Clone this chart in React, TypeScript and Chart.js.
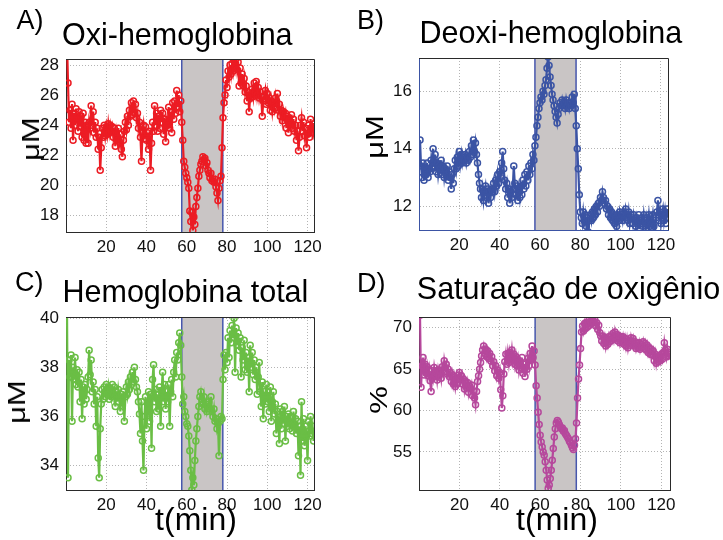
import React, { useEffect, useRef } from "react";
import { Chart, registerables } from "chart.js";

Chart.register(...registerables);

// sampling of the recordings (minutes)
const T0 = 0.5;
const DT = 0.5;

// A) Oxi-hemoglobina (µM)
const OXI_HB = [
  29.5, 26.8, 24.2, 25.0, 23.8, 25.4, 23.0, 24.8, 24.0, 25.1,
  24.5, 23.6, 24.9, 23.9, 24.6, 23.2, 24.8, 23.0, 24.2, 22.8,
  24.0, 22.8, 24.2, 23.8, 25.3, 24.0, 24.9, 23.5, 24.2, 23.2,
  23.8, 22.4, 23.2, 21.0, 22.5, 23.8, 23.2, 24.0, 23.3, 23.9,
  23.4, 24.1, 23.5, 24.0, 23.6, 23.9, 23.2, 23.8, 22.6, 23.5,
  23.0, 23.8, 22.9, 23.4, 22.4, 21.9, 23.0, 23.6, 24.2, 23.7,
  24.6, 24.0, 25.0, 24.6, 25.5, 24.7, 25.6, 24.8, 25.4, 24.5,
  24.8, 23.8, 24.2, 23.2, 21.6, 23.5, 24.0, 23.1, 23.9, 23.0,
  23.5, 22.4, 23.6, 21.0, 22.8, 24.2, 23.6, 25.3, 24.0, 24.8,
  23.6, 24.6, 23.8, 25.0, 24.2, 24.8, 23.4, 24.4, 22.9, 24.3,
  24.0, 25.2, 23.8, 24.9, 23.5, 25.5, 24.4, 25.6, 24.8, 26.3,
  25.2, 26.0, 24.9, 25.6, 24.2, 23.0, 21.6, 21.2,
  20.8, 20.5, 20.2, 19.8, 18.3, 17.6, 18.2, 17.0, 17.9, 17.4,
  18.6, 19.2, 19.8, 20.6, 21.0, 21.4, 21.6, 21.9, 21.7, 21.8,
  21.3, 21.5, 21.0, 20.8, 20.5, 20.8, 20.3, 20.4, 20.2, 20.4,
  19.9, 19.5, 19.0, 19.8, 20.3, 20.6, 22.5, 24.5, 25.5, 26.0,
  27.0, 26.5, 27.6, 27.2, 28.0, 27.4, 28.1, 27.6, 28.3, 27.8,
  28.4, 27.7, 28.2, 26.6, 27.8, 26.8, 27.4, 26.6, 27.1, 26.2,
  26.6, 25.6, 26.2, 24.9, 26.0, 25.8, 26.4, 25.9, 26.8, 26.2,
  26.9, 26.0, 26.5, 25.8, 26.2, 25.9, 24.6, 25.6, 25.9,
  26.3, 25.4, 26.1, 25.5, 25.8, 25.0, 25.6, 24.9, 25.5, 25.1,
  25.8, 25.2, 26.1, 25.0, 25.4, 24.6, 25.0, 24.3, 24.9, 24.5,
  24.8, 23.8, 24.6, 23.5, 24.4, 24.0, 24.7, 23.8, 24.4, 23.6,
  24.0, 23.0, 23.6, 22.3, 23.2, 24.0, 24.5, 23.6, 24.2, 23.3,
  23.8, 22.5, 23.4, 24.0, 23.2, 24.4, 23.6, 23.9, 23.5, 24.1, 23.3,
];

// B) Deoxi-hemoglobina (µM)
const DEOXI_HB = [
  14.3, 13.4, 13.0, 13.5, 12.9, 13.3, 13.1, 13.5, 13.0, 13.3,
  13.2, 13.6, 13.3, 14.0, 13.4, 13.8, 13.2, 13.5, 13.1, 13.4,
  13.3, 13.6, 13.1, 13.4, 13.0, 13.3, 13.1, 13.4, 12.9, 13.2,
  13.0, 12.6, 13.1, 12.8, 13.3, 13.6, 13.3, 13.7, 13.4, 13.9,
  13.5, 13.8, 13.5, 13.7, 13.6, 13.8, 13.5, 13.7, 13.6, 13.9,
  13.7, 14.1, 13.8, 14.3, 13.9, 14.2, 13.8, 13.5, 13.1, 12.8,
  12.6, 12.3, 12.6, 12.2, 12.5, 12.7, 12.3, 12.6, 12.1, 12.5,
  12.3, 12.6, 12.5, 12.8, 12.5, 12.9, 12.7, 13.1, 12.8, 13.2,
  13.0, 13.5, 13.9, 13.3, 12.9, 12.6, 12.8, 12.3, 12.6, 12.1,
  12.5, 12.3, 12.6, 13.4, 12.8, 12.4, 12.7, 12.2, 12.6, 12.3,
  12.7, 12.4, 12.9, 12.6, 13.1, 12.7, 13.2, 12.9, 13.4, 13.1,
  13.5, 13.3, 13.8, 13.6, 14.1, 14.4, 14.8, 15.1, 15.4, 15.6,
  15.8, 15.7, 16.0, 15.9, 16.2, 16.4, 16.8, 17.2, 16.9, 16.5,
  16.2, 15.9, 15.7, 15.5, 15.3, 15.1, 14.9, 15.2, 15.4, 15.6,
  15.5, 15.7, 15.5, 15.6, 15.4, 15.7, 15.5, 15.6, 15.4, 15.6,
  15.5, 15.8, 15.6, 15.9, 15.4, 14.8, 14.0, 13.3, 12.4, 11.8,
  11.6, 11.4, 11.8, 11.5, 11.7, 11.3, 11.6, 11.1, 11.5, 11.7,
  11.5, 11.8, 11.6, 11.9, 11.7, 12.0, 11.8, 12.1, 12.0, 12.3,
  12.2, 12.5, 12.3, 12.1, 12.2, 11.9, 12.0, 11.7, 11.9, 11.6,
  11.8, 11.5, 11.7, 11.4, 11.6, 11.3, 11.7, 11.5, 11.8, 11.6,
  11.7, 11.5, 11.8, 11.6, 11.9, 11.7, 11.5, 11.8, 11.4, 11.7,
  11.6, 11.4, 11.7, 11.5, 11.3, 11.6, 11.4, 11.7, 11.2, 11.5,
  11.6, 11.3, 11.7, 11.4, 11.2, 11.6, 11.4, 11.7, 11.3, 11.5,
  11.4, 11.7, 11.3, 11.05, 11.6, 11.8, 12.2, 11.5, 11.8, 11.4,
  11.7, 11.9, 11.5, 11.8, 11.4, 11.9, 11.6, 11.7,
];

// C) Hemoglobina total (µM)
const TOTAL_HB = [
  40.5, 33.5, 38.3, 37.6, 38.5, 35.8, 38.0, 37.5, 38.4, 37.3,
  37.9, 37.2, 37.8, 36.6, 37.5, 35.9, 37.2, 36.5, 37.3, 36.7,
  37.1, 37.6, 38.7, 37.7, 38.3, 37.0, 37.4, 36.5, 37.1, 35.6,
  36.8, 34.3, 33.5, 35.5, 36.5, 37.1, 36.7, 37.2, 36.8, 37.3,
  36.9, 37.2, 36.7, 37.1, 36.8, 37.3, 36.9, 37.2, 36.4, 37.0,
  36.6, 37.1, 36.8, 36.2, 36.9, 36.6, 37.0, 35.8, 36.8, 37.2,
  36.9, 37.4, 37.1, 37.6, 37.3, 37.8, 37.4, 38.0, 37.5, 37.2,
  37.0, 36.6, 36.1, 35.3, 36.6, 35.0, 33.8, 36.0, 36.8, 35.5,
  36.5, 37.0, 35.8, 36.9, 34.7, 37.5, 38.1, 36.6, 37.1, 36.2,
  36.9, 36.3, 37.2, 35.6, 37.0, 37.8, 36.6, 37.3, 36.3, 37.0,
  36.6, 37.3, 35.6, 37.0, 37.5, 36.8, 37.8, 38.3, 37.6, 38.6,
  38.3, 39.0, 39.4, 38.9, 37.6, 36.5, 36.8, 36.2, 36.0, 35.7,
  35.6, 35.2, 34.6, 33.8, 33.0, 33.5, 33.2, 34.2, 35.0, 35.5,
  36.0, 36.4, 36.8, 37.0, 36.7, 36.5, 36.8, 36.3, 36.5, 36.2,
  36.4, 36.6, 36.3, 36.8, 36.2, 36.0, 36.3, 35.8, 35.9, 35.5,
  35.7, 34.4, 35.8, 36.0, 35.9, 37.5, 38.5, 37.9, 38.6, 38.2,
  39.2, 38.4, 39.5, 39.0, 39.7, 39.2, 40.0, 37.8, 39.6, 38.9,
  39.4, 38.7, 39.2, 37.6, 38.8, 38.3, 39.1, 37.9, 38.6, 37.8,
  38.4, 37.0, 38.9, 38.0, 38.6, 37.7, 38.3, 37.5, 38.0, 36.9,
  37.6, 38.2, 37.0, 36.4, 37.4, 35.9, 37.0, 36.5, 37.3, 36.6,
  37.0, 36.2, 37.2, 35.8, 36.6, 37.0, 36.1, 36.5, 35.3, 36.2,
  35.8, 34.9, 36.3, 35.5, 36.2, 35.7, 36.4, 35.0, 36.0, 35.6,
  36.1, 35.5, 36.0, 35.7, 35.4, 36.2, 35.6, 35.9, 35.3, 35.8,
  34.4, 35.6, 33.6, 36.6, 35.0, 35.9, 34.8, 35.6, 35.2, 34.2,
  35.8, 35.2, 36.0, 35.3, 35.6, 35.0, 35.4, 35.2,
];

// D) Saturação de oxigênio (%)
const SAT_O2 = [
  71.5, 62.8, 65.4, 66.4, 64.3, 65.6, 64.5, 65.3, 64.2, 65.0,
  63.6, 62.3, 64.8, 64.0, 65.2, 64.3, 64.8, 63.7, 64.9, 64.2,
  64.8, 63.9, 65.3, 64.6, 66.0, 65.2, 65.6, 64.4, 65.0, 64.1,
  64.6, 63.5, 64.3, 63.2, 64.0, 62.9, 63.8, 63.2, 64.3, 64.6,
  63.7, 64.2, 63.2, 63.8, 62.6, 63.5, 62.8, 63.4, 62.2, 63.0,
  62.6, 63.1, 61.8, 62.4, 61.5, 60.7, 62.3, 63.5, 64.2, 65.0,
  65.8, 66.6, 67.3, 67.8, 66.9, 67.4, 66.5, 67.2, 66.3, 66.9,
  66.0, 66.5, 65.4, 65.9, 64.8, 65.4, 64.2, 64.9, 63.9, 64.6,
  62.5, 60.3, 61.8, 64.4, 65.9, 66.8, 65.6, 66.9, 65.8, 67.0,
  66.2, 67.3, 66.0, 66.8, 65.6, 66.5, 65.4, 66.2, 64.9, 65.8,
  65.2, 66.4, 64.5, 65.6, 64.1, 65.8, 65.0, 66.3, 65.4, 66.9,
  66.2, 67.8, 66.4, 67.2, 65.5, 63.0, 61.5, 59.8, 58.3, 57.0,
  56.2, 55.6, 55.0, 54.6, 53.8, 52.8, 51.6, 50.6, 51.0, 51.8,
  52.8, 54.0, 55.4, 56.8, 57.8, 58.5, 58.8, 58.6, 58.3, 58.0,
  57.8, 57.9, 57.5, 57.6, 57.2, 57.0, 56.8, 56.6, 56.3, 56.1,
  55.8, 55.5, 55.3, 55.8, 56.6, 58.5, 61.5, 63.8, 65.5, 67.5,
  69.5, 70.2, 69.6, 70.5, 69.9, 70.7, 70.1, 70.6, 70.3, 70.8,
  70.5, 71.2, 70.6, 71.0, 70.2, 70.6, 69.8, 70.3, 69.4, 69.0,
  68.4, 69.0, 68.1, 68.8, 67.8, 68.6, 68.0, 68.9, 68.3, 69.0,
  68.5, 69.3, 68.6, 69.5, 68.7, 69.2, 68.4, 69.0, 68.2, 68.9,
  68.3, 68.9, 68.0, 68.7, 67.8, 68.6, 67.6, 68.4, 67.9, 68.8,
  68.2, 68.7, 67.8, 68.3, 67.5, 68.1, 67.6, 68.2, 67.4, 68.0,
  67.7, 68.3, 67.5, 68.1, 67.3, 67.9, 67.0, 67.6, 66.8, 67.4,
  66.7, 67.2, 66.0, 66.8, 65.7, 66.5, 65.9, 66.6, 66.0, 66.8,
  66.2, 67.0, 68.2, 67.3, 66.5, 67.4, 66.6, 67.0,
];

const X_TICKS = [20, 40, 60, 80, 100, 120];
const OXI_TICKS = [18, 20, 22, 24, 26, 28];
const DEOXI_TICKS = [12, 14, 16];
const TOTAL_TICKS = [34, 36, 38, 40];
const SAT_TICKS = [55, 60, 65, 70];

// stimulus window (minutes)
const STIM_START = 57.5;
const STIM_END = 77.9;

const W = 723;
const H = 540;
const FONT = '"Liberation Sans", Arial, Helvetica, sans-serif';
const Y_AXIS_W = 60;
const X_AXIS_H = 30;
const FRAME = "#2a2a2a";
const GRID = "#b4b4b4";
const SHADE = "#c9c5c5";
const EDGE = "#4757ad";

type Panel = {
  id: string;
  values: number[];
  ticks: number[];
  yMin: number;
  yMax: number;
  xMax: number;
  color: string;
  area: [number, number, number, number];
  leftBorder: string;
  bottomBorder: string;
};

const PANELS: Panel[] = [
  { id: "A", values: OXI_HB, ticks: OXI_TICKS, yMin: 16.9, yMax: 28.4, xMax: 123.2, color: "#ec1c24", area: [66, 314, 59, 232], leftBorder: FRAME, bottomBorder: FRAME },
  { id: "B", values: DEOXI_HB, ticks: DEOXI_TICKS, yMin: 11.17, yMax: 17.16, xMax: 123.5, color: "#3b54a4", area: [419, 668, 58, 230], leftBorder: "#3b54a4", bottomBorder: "#3b54a4" },
  { id: "C", values: TOTAL_HB, ticks: TOTAL_TICKS, yMin: 33.0, yMax: 40.05, xMax: 123.2, color: "#6abe45", area: [66, 314, 317, 490], leftBorder: FRAME, bottomBorder: FRAME },
  { id: "D", values: SAT_O2, ticks: SAT_TICKS, yMin: 50.4, yMax: 71.3, xMax: 124.3, color: "#b6489c", area: [419, 670, 317, 490], leftBorder: FRAME, bottomBorder: FRAME },
];

const stimPlugin = {
  id: "stimWindow",
  beforeDatasetsDraw(chart: any) {
    const { ctx, chartArea, scales } = chart;
    const x1 = scales.x.getPixelForValue(STIM_START);
    const x2 = scales.x.getPixelForValue(STIM_END);
    ctx.save();
    ctx.fillStyle = SHADE;
    ctx.fillRect(x1, chartArea.top, x2 - x1, chartArea.bottom - chartArea.top);
    ctx.strokeStyle = EDGE;
    ctx.lineWidth = 1.5;
    ctx.beginPath();
    ctx.moveTo(x1, chartArea.top);
    ctx.lineTo(x1, chartArea.bottom);
    ctx.moveTo(x2, chartArea.top);
    ctx.lineTo(x2, chartArea.bottom);
    ctx.stroke();
    ctx.restore();
  },
  afterDatasetsDraw(chart: any) {
    const { ctx, chartArea } = chart;
    const top = Math.round(chartArea.top - 0.5) + 0.5;
    const right = Math.round(chartArea.right - 0.5) + 0.5;
    ctx.save();
    ctx.strokeStyle = FRAME;
    ctx.lineWidth = 1;
    ctx.beginPath();
    ctx.moveTo(chartArea.left, top);
    ctx.lineTo(right, top);
    ctx.lineTo(right, chartArea.bottom);
    ctx.stroke();
    ctx.restore();
  },
};

function PanelChart({ panel }: { panel: Panel }) {
  const ref = useRef<HTMLCanvasElement>(null);
  useEffect(() => {
    const canvas = ref.current;
    if (!canvas) return;
    const [l, r, t, b] = panel.area;
    const points = panel.values.map((v, i) => ({ x: T0 + i * DT, y: v }));
    const tickFont = { family: FONT, size: 17 };
    const chart = new Chart(canvas, {
      type: "line",
      data: {
        datasets: [
          {
            data: points,
            borderColor: panel.color,
            borderWidth: 2.2,
            pointRadius: 3,
            pointBorderWidth: 1.5,
            pointBorderColor: panel.color,
            pointBackgroundColor: "rgba(0,0,0,0)",
            pointHoverRadius: 0,
            fill: false,
            tension: 0,
          },
        ],
      },
      options: {
        responsive: false,
        animation: false,
        devicePixelRatio: 1,
        events: [],
        layout: {
          padding: { left: l - Y_AXIS_W, right: W - r, top: t, bottom: H - b - X_AXIS_H },
        },
        plugins: { legend: { display: false }, tooltip: { enabled: false } },
        scales: {
          x: {
            type: "linear",
            min: 0,
            max: panel.xMax,
            afterBuildTicks: (s: any) => {
              s.ticks = X_TICKS.map((v) => ({ value: v }));
            },
            afterFit: (s: any) => {
              s.height = X_AXIS_H;
            },
            grid: { color: GRID, lineWidth: 1, drawTicks: false },
            border: { display: true, color: panel.bottomBorder, width: 1, dash: [1, 2] },
            ticks: { padding: 5, font: tickFont, color: "#111", maxRotation: 0, autoSkip: false, callback: (v: any) => String(v) },
          },
          y: {
            type: "linear",
            min: panel.yMin,
            max: panel.yMax,
            afterBuildTicks: (s: any) => {
              s.ticks = panel.ticks.map((v) => ({ value: v }));
            },
            afterFit: (s: any) => {
              s.width = Y_AXIS_W;
            },
            grid: { color: GRID, lineWidth: 1, drawTicks: false },
            border: { display: true, color: panel.leftBorder, width: 1, dash: [1, 2] },
            ticks: { padding: 7, font: tickFont, color: "#111", autoSkip: false, callback: (v: any) => String(v) },
          },
        },
      },
      plugins: [stimPlugin],
    } as any);
    return () => chart.destroy();
  }, [panel]);
  return (
    <canvas
      ref={ref}
      width={W}
      height={H}
      style={{ position: "absolute", left: 0, top: 0, width: W, height: H }}
    />
  );
}

function Txt({ text, left, baseline, size }: { text: string; left: number; baseline: number; size: number }) {
  return (
    <div
      style={{
        position: "absolute",
        left,
        top: baseline - 0.8465 * size,
        fontSize: size,
        lineHeight: `${size}px`,
        fontFamily: FONT,
        whiteSpace: "nowrap",
        color: "#000",
      }}
    >
      {text}
    </div>
  );
}

function CenterTxt({ text, cx, baseline, size }: { text: string; cx: number; baseline: number; size: number }) {
  return (
    <div
      style={{
        position: "absolute",
        left: cx,
        top: baseline - 0.8465 * size,
        fontSize: size,
        lineHeight: `${size}px`,
        fontFamily: FONT,
        whiteSpace: "nowrap",
        color: "#000",
        transform: "translateX(-50%)",
      }}
    >
      {text}
    </div>
  );
}

function RotTxt({ text, cx, cy, size }: { text: string; cx: number; cy: number; size: number }) {
  return (
    <div
      style={{
        position: "absolute",
        left: cx,
        top: cy,
        fontSize: size,
        lineHeight: `${size}px`,
        fontFamily: FONT,
        whiteSpace: "nowrap",
        color: "#000",
        transform: "translate(-50%, -50%) rotate(-90deg) scaleY(0.8)",
      }}
    >
      {text}
    </div>
  );
}

export default function App() {
  return (
    <div style={{ position: "absolute", left: 0, top: 0, width: W, height: H, background: "#fff", overflow: "hidden" }}>
      {PANELS.map((p) => (
        <PanelChart key={p.id} panel={p} />
      ))}
      <Txt text="A)" left={16.5} baseline={30} size={27} />
      <Txt text="B)" left={357} baseline={30} size={27} />
      <Txt text="C)" left={15} baseline={291.7} size={27} />
      <Txt text="D)" left={357} baseline={292.7} size={27} />

      <Txt text="Oxi-hemoglobina" left={62} baseline={44.8} size={30.5} />
      <Txt text="Deoxi-hemoglobina" left={419.5} baseline={43.3} size={30.5} />
      <Txt text="Hemoglobina total" left={62.5} baseline={301.7} size={30.5} />
      <Txt text="Saturação de oxigênio" left={416.8} baseline={299.3} size={30.5} />

      <RotTxt text="μM" cx={31} cy={139} size={31} />
      <RotTxt text="μM" cx={375} cy={137} size={31} />
      <RotTxt text="μM" cx={17} cy={402} size={31} />
      <RotTxt text="%" cx={379} cy={400} size={31} />

      <CenterTxt text="t(min)" cx={196} baseline={530} size={32} />
      <CenterTxt text="t(min)" cx={557} baseline={530} size={32} />
    </div>
  );
}
